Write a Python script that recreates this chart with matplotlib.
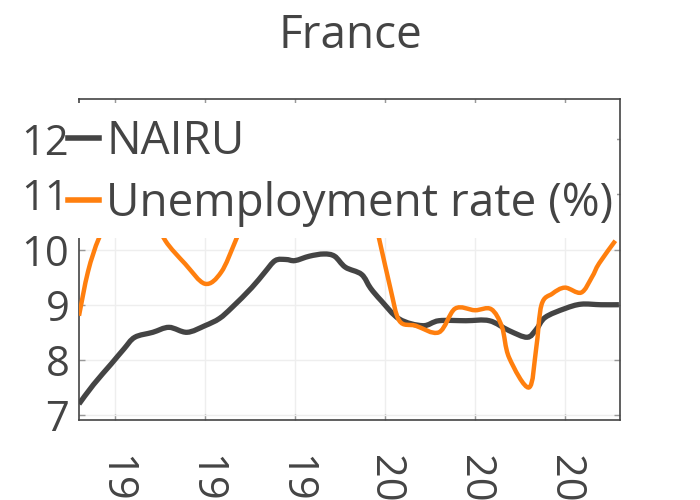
import matplotlib
matplotlib.use("Agg")
import matplotlib.pyplot as plt
from matplotlib.path import Path
from matplotlib.patches import PathPatch, Rectangle
from matplotlib.lines import Line2D

# NAIRU (France)
nairu_years = [1983.0, 1983.8, 1984.8, 1985.5, 1986.1, 1987.1, 1988.0, 1989.0, 1990.0,
               1990.8, 1991.5, 1992.6, 1993.3, 1993.9, 1994.5, 1995.0, 1995.8, 1996.6,
               1997.2, 1997.8, 1998.7, 1999.2, 1999.8, 2000.8, 2002.1, 2003.0, 2004.5,
               2005.8, 2006.9, 2007.9, 2008.4, 2008.9, 2010.0, 2010.9, 2012.0, 2013.0]
nairu = [7.2, 7.55, 7.93, 8.2, 8.41, 8.5, 8.59, 8.5, 8.62,
         8.75, 8.95, 9.31, 9.58, 9.8, 9.82, 9.8, 9.88, 9.92,
         9.88, 9.68, 9.55, 9.3, 9.07, 8.74, 8.62, 8.71, 8.71,
         8.71, 8.53, 8.41, 8.55, 8.77, 8.93, 9.01, 9.0, 9.0]

# Unemployment rate (%)
unemp_years = [1983.0, 1983.5, 1984.1, 1984.8, 1985.5, 1986.5, 1987.2, 1987.8, 1988.9,
               1990.0, 1990.9, 1991.7, 1992.5, 1993.5, 1994.5, 1995.5, 1996.5, 1997.5,
               1998.5, 1999.2, 1999.7, 2000.3, 2000.8, 2001.7, 2003.0, 2003.9, 2005.0,
               2005.9, 2006.5, 2006.9, 2008.0, 2008.4, 2008.7, 2009.3, 2010.0, 2010.9,
               2011.5, 2011.9, 2012.8]
unemp = [8.8, 9.6, 10.2, 10.6, 10.8, 10.9, 10.6, 10.16, 9.74,
         9.38, 9.59, 10.16, 10.8, 11.4, 11.8, 11.5, 11.7, 11.5,
         11.2, 10.8, 10.16, 9.3, 8.71, 8.62, 8.5, 8.93, 8.9,
         8.92, 8.6, 8.04, 7.5, 8.2, 9.0, 9.2, 9.31, 9.22,
         9.5, 9.75, 10.16]

x_ticks = [1985, 1990, 1995, 2000, 2005, 2010]
x_ticklabels = ["1985", "1990", "1995", "2000", "2005", "2010"]
y_ticks = [7, 8, 9, 10, 11, 12]
labels = ['NAIRU', 'Unemployment rate (%)']
colors = ['#444444', '#ff7f0e']

plt.rcParams['font.family'] = ['Open Sans', 'DejaVu Sans']
text_color = '#444444'


def smooth_path(xs, ys):
    """Catmull-Rom spline through the given points, as Bezier path codes."""
    pts = list(zip(xs, ys))
    n = len(pts)
    verts = [pts[0]]
    codes = [Path.MOVETO]
    for i in range(n - 1):
        p0 = pts[i - 1] if i > 0 else pts[i]
        p1 = pts[i]
        p2 = pts[i + 1]
        p3 = pts[i + 2] if i + 2 < n else pts[i + 1]
        c1 = (p1[0] + (p2[0] - p0[0]) / 6, p1[1] + (p2[1] - p0[1]) / 6)
        c2 = (p2[0] - (p3[0] - p1[0]) / 6, p2[1] - (p3[1] - p1[1]) / 6)
        verts += [c1, c2, p2]
        codes += [Path.CURVE4] * 3
    return Path(verts, codes)


fig = plt.figure(figsize=(7, 5), dpi=100)
ax = fig.add_axes([79/700, 1-420/500, (620-79)/700, (420-99)/500])

ax.add_patch(PathPatch(smooth_path(nairu_years, nairu), fill=False, edgecolor=colors[0],
                       lw=3.8, capstyle='butt', zorder=3))
ax.add_patch(PathPatch(smooth_path(unemp_years, unemp), fill=False, edgecolor=colors[1],
                       lw=3.2, capstyle='butt', zorder=3))

ax.set_xlim(1983.0, 2013.06)
ax.set_ylim(6.91, 12.73)
ax.set_xticks(x_ticks)
ax.set_xticklabels(x_ticklabels, rotation=-90, fontsize=30, color=text_color)
ax.set_yticks(y_ticks)
ax.set_yticklabels([str(v) for v in y_ticks], fontsize=30, color=text_color)
ax.tick_params(direction='in', length=4, width=1, color='#999999', top=True, right=True)
ax.tick_params(axis='y', pad=7)
ax.tick_params(axis='x', pad=25)
ax.grid(True, color='#eeeeee', lw=1, zorder=0)
for s in ax.spines.values():
    s.set_color('#444444')
    s.set_linewidth(1.2)

# white legend background covering the top of the plot area
fig.add_artist(Rectangle((68/700, 1-238/500), (617-68)/700, (238-103)/500,
                         transform=fig.transFigure, facecolor='white', edgecolor='none',
                         zorder=2))

handles = [Line2D([], [], color=c, lw=4) for c in colors]
leg = fig.legend(handles, labels, loc='upper left', bbox_to_anchor=(68/700, 1-119/500),
                 fontsize=33, frameon=False, handlelength=0.68, handletextpad=0.16,
                 borderpad=0.0, labelspacing=0.34, borderaxespad=0)
leg.set_zorder(5)
for t in leg.get_texts():
    t.set_color(text_color)

fig.suptitle('France', fontsize=33, color=text_color, y=1-13/500, va='top')

fig.savefig('out.png', dpi=100)
